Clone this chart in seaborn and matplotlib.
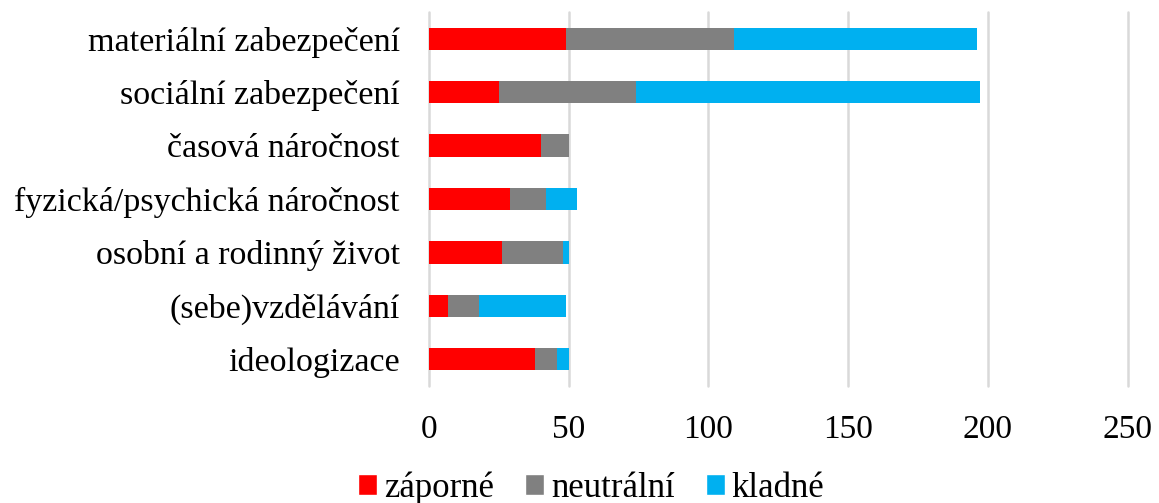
import pandas as pd
import matplotlib.pyplot as plt
import seaborn as sns
from matplotlib.patches import Patch

categories = [
    "materiální zabezpečení",
    "sociální zabezpečení",
    "časová náročnost",
    "fyzická/psychická náročnost",
    "osobní a rodinný život",
    "(sebe)vzdělávání",
    "ideologizace",
]
zaporne = [49, 25, 40, 29, 26, 7, 38]
neutralni = [60, 49, 10, 13, 22, 11, 8]
kladne = [87, 123, 0, 11, 2, 31, 4]

series_names = ["záporné", "neutrální", "kladné"]
colors = ["#FF0000", "#808080", "#00B0F0"]

df = pd.DataFrame({
    "kategorie": categories,
    "záporné": zaporne,
    "neutrální": neutralni,
    "kladné": kladne,
})
# cumulative ends for stacking
df["c1"] = df["záporné"]
df["c2"] = df["c1"] + df["neutrální"]
df["c3"] = df["c2"] + df["kladné"]

sns.set_style("white")
plt.rcParams["font.family"] = ["Liberation Serif", "DejaVu Serif"]
plt.rcParams["text.color"] = "black"

fig = plt.figure(figsize=(11.59, 5.03), dpi=100)
ax = fig.add_axes([0.370, 0.233, 0.603, 0.743])

for col, color in zip(["c3", "c2", "c1"], colors[::-1]):
    sns.barplot(data=df, x=col, y="kategorie", order=categories, color=color,
                width=0.42, linewidth=0, saturation=1, ax=ax)

ax.set_xlim(0, 250)
ax.set_xticks([0, 50, 100, 150, 200, 250])
ax.set_xlabel("")
ax.set_ylabel("")
ax.grid(axis="x", color="#d9d9d9", linewidth=1.8)
for gl in ax.get_xgridlines():
    gl.set_clip_on(False)
ax.set_axisbelow(True)
for s in ax.spines.values():
    s.set_visible(False)
ax.tick_params(axis="x", length=0, pad=21, labelsize=24, labelcolor="black")
ax.tick_params(axis="y", length=0, pad=21, labelsize=24.5, labelcolor="black")

handles = [Patch(facecolor=c, label=n) for c, n in zip(colors, series_names)]
fig.legend(handles=handles, loc="center", bbox_to_anchor=(0.51, 0.03), ncol=3,
           frameon=False, fontsize=25, handlelength=0.55, handleheight=0.55,
           handletextpad=0.2, columnspacing=0.9)

fig.savefig("out.png", dpi=100)
